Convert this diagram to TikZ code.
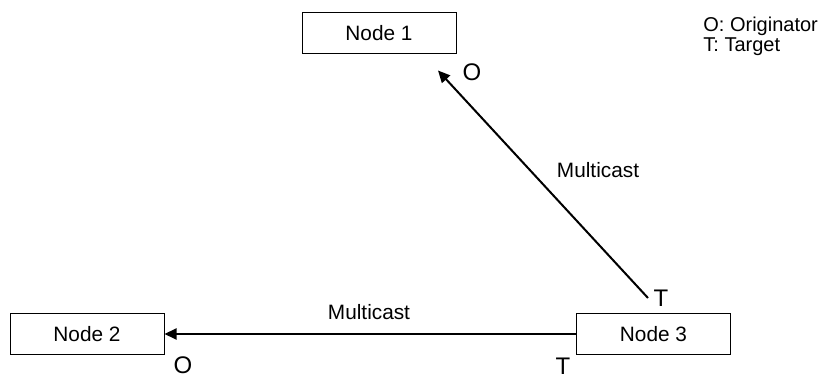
\documentclass[tikz,border=0pt]{standalone}
\usepackage{fontspec}
\setmainfont{Liberation Sans}
\usetikzlibrary{arrows.meta,positioning}

\begin{document}
\begin{tikzpicture}[
x=0.5pt, y=-0.5pt,
box/.style={draw, line width=0.5pt, minimum width=77pt, minimum height=20.5pt, inner sep=0pt, font=\fontsize{10.4}{12}\selectfont},
arrow/.style={-{Triangle[length=6pt, width=5.5pt]}, line width=1pt},
role/.style={font=\fontsize{12}{14}\selectfont, inner sep=0pt},
lbl/.style={font=\fontsize{10.4}{12}\selectfont, inner sep=0pt}
]
\useasboundingbox (0,0) rectangle (824,378);
\node[box] (n1) at (379,33.5) {Node 1};
\node[box] (n2) at (87,334) {Node 2};
\node[box] (n3) at (653.5,334) {Node 3};
\draw[arrow] ([shift={(-5.5,-15)}]n3.north) -- ([shift={(59,16)}]n1.south);
\draw[arrow] (n3.west) -- (n2.east);
\node[lbl] (m1) at (598,170) {Multicast};
\node[lbl] (m2) at (369,312) {Multicast};
\node[role] (o1) at (472,72) {O};
\node[role] (t1) at (661,298) {T};
\node[role] (o2) at (183,365) {O};
\node[role] (t2) at (563,366) {T};
\node[anchor=north west, align=left, inner sep=0pt, font=\fontsize{10}{10}\selectfont] (key) at (703,17) {O: Originator\\T: Target};
\end{tikzpicture}
\end{document}
